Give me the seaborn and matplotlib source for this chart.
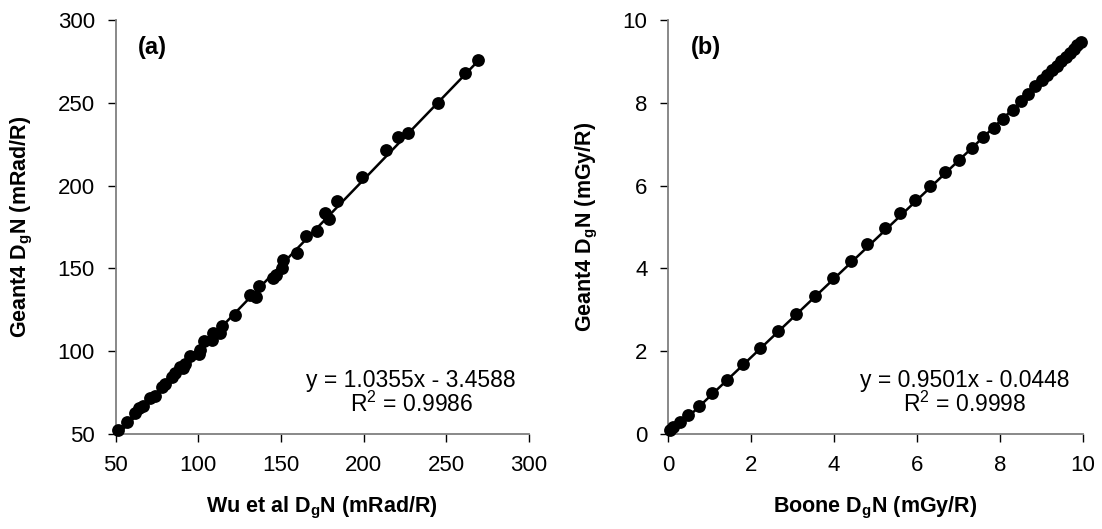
import numpy as np
import pandas as pd
import matplotlib
matplotlib.use("Agg")
import matplotlib.pyplot as plt
import seaborn as sns

# ---- data panel (a): Wu et al vs Geant4 (mRad/R)
wu_x = [51.6, 56.7, 61.7, 64.3, 66.7, 70.8, 73.8, 77.8, 79.8, 83.9, 85.9, 88.9,
        91.9, 90.9, 95.0, 100.6, 101.0, 103.4, 108.1, 109.1, 113.1, 114.1, 122.2,
        131.3, 134.7, 136.9, 145.0, 147.0, 150.8, 151.0, 159.5, 165.1, 171.6,
        176.6, 179.2, 183.7, 198.8, 213.7, 221.0, 227.0, 245.2, 261.3, 269.0]
geant_a = [52.4, 57.4, 62.5, 65.5, 66.9, 71.5, 72.9, 78.6, 80.2, 84.6, 87.0, 90.6,
           92.3, 89.6, 97.3, 98.3, 101.0, 106.1, 106.7, 110.8, 111.2, 115.2, 121.8,
           133.9, 132.5, 139.3, 144.0, 146.0, 150.0, 155.0, 159.5, 169.5, 172.8,
           183.7, 179.6, 190.5, 205.3, 221.6, 229.4, 231.8, 250.0, 268.0, 275.7]

# ---- data panel (b): Boone vs Geant4 (mGy/R)
boone_x = [0.04, 0.12, 0.28, 0.48, 0.75, 1.06, 1.41, 1.79, 2.22, 2.65, 3.09, 3.53,
           3.98, 4.40, 4.80, 5.22, 5.58, 5.95, 6.32, 6.68, 7.02, 7.33, 7.60, 7.85,
           8.08, 8.30, 8.50, 8.68, 8.85, 9.00, 9.13, 9.25, 9.37, 9.48, 9.58, 9.68,
           9.77, 9.86, 9.95]
geant_b = [0.10, 0.18, 0.30, 0.46, 0.68, 0.98, 1.30, 1.68, 2.07, 2.49, 2.91, 3.34,
           3.76, 4.18, 4.58, 4.97, 5.33, 5.65, 6.00, 6.32, 6.62, 6.92, 7.17, 7.40,
           7.62, 7.83, 8.04, 8.22, 8.40, 8.55, 8.67, 8.79, 8.90, 9.01, 9.11, 9.21,
           9.30, 9.39, 9.48]

# trendline coefficients (from the chart annotations)
fit_a = (1.0355, -3.4588)
fit_b = (0.9501, -0.0448)
eq_a = ["y = 1.0355x - 3.4588", r"R$^{2}$ = 0.9986"]
eq_b = ["y = 0.9501x - 0.0448", r"R$^{2}$ = 0.9998"]

xticks_a = [50, 100, 150, 200, 250, 300]
yticks_a = [50, 100, 150, 200, 250, 300]
xticks_b = [0, 2, 4, 6, 8, 10]
yticks_b = [0, 2, 4, 6, 8, 10]

sns.set_style("ticks")
plt.rcParams['font.family'] = ['Liberation Sans', 'DejaVu Sans']
plt.rcParams['mathtext.fontset'] = 'custom'
plt.rcParams['mathtext.rm'] = 'Liberation Sans'
plt.rcParams['mathtext.bf'] = 'Liberation Sans:bold'
plt.rcParams['mathtext.it'] = 'Liberation Sans:italic'
plt.rcParams['mathtext.default'] = 'regular'
for k in ['text.color', 'axes.labelcolor', 'xtick.color', 'ytick.color']:
    plt.rcParams[k] = 'black'

fig = plt.figure(figsize=(11.02, 5.29), dpi=100)
ax_a = fig.add_axes([0.105, 0.1796, 0.375, 0.7824])
ax_b = fig.add_axes([0.6064, 0.1796, 0.3764, 0.7824])

def panel(ax, xs, ys, fit, eq, xt, yt, xlab, ylab, tag, eqpos):
    df = pd.DataFrame({"x": xs, "y": ys})
    lx = np.array([min(xs), max(xs)])
    ldf = pd.DataFrame({"x": lx, "y": fit[0] * lx + fit[1]})
    sns.lineplot(data=ldf, x="x", y="y", ax=ax, color="black", linewidth=1.8)
    sns.scatterplot(data=df, x="x", y="y", ax=ax, color="black", s=85,
                    edgecolor="black", linewidth=0, zorder=3, clip_on=False)
    ax.set_xlim(xt[0], xt[-1])
    ax.set_ylim(yt[0], yt[-1])
    ax.set_xticks(xt)
    ax.set_yticks(yt)
    ax.tick_params(labelsize=16, length=6, width=1, color="black", direction="out")
    ax.tick_params(axis="x", pad=9)
    ax.tick_params(axis="y", pad=9)
    for s in ["top", "right"]:
        ax.spines[s].set_visible(False)
    for s in ["left", "bottom"]:
        ax.spines[s].set_color("#7f7f7f")
        ax.spines[s].set_linewidth(1.3)
    ax.set_xlabel(xlab, fontsize=15.5, fontweight="bold", labelpad=14)
    ax.set_ylabel(ylab, fontsize=15.5, fontweight="bold", labelpad=16)
    ax.text(0.054, 0.935, tag, transform=ax.transAxes, fontsize=17,
            fontweight="bold", ha="left", va="center")
    ax.text(eqpos[0], eqpos[1], eq[0], transform=ax.transAxes, fontsize=16.5,
            ha="center", va="center")
    ax.text(eqpos[0], eqpos[1] - 0.058, eq[1], transform=ax.transAxes, fontsize=16.5,
            ha="center", va="center")

panel(ax_a, wu_x, geant_a, fit_a, eq_a, xticks_a, yticks_a,
      r"Wu et al D$_{\mathbf{g}}$N (mRad/R)", r"Geant4 D$_{\mathbf{g}}$N (mRad/R)",
      "(a)", (0.715, 0.13))
panel(ax_b, boone_x, geant_b, fit_b, eq_b, xticks_b, yticks_b,
      r"Boone D$_{\mathbf{g}}$N (mGy/R)", r"Geant4 D$_{\mathbf{g}}$N (mGy/R)",
      "(b)", (0.715, 0.13))

fig.savefig("out.png", dpi=100)
